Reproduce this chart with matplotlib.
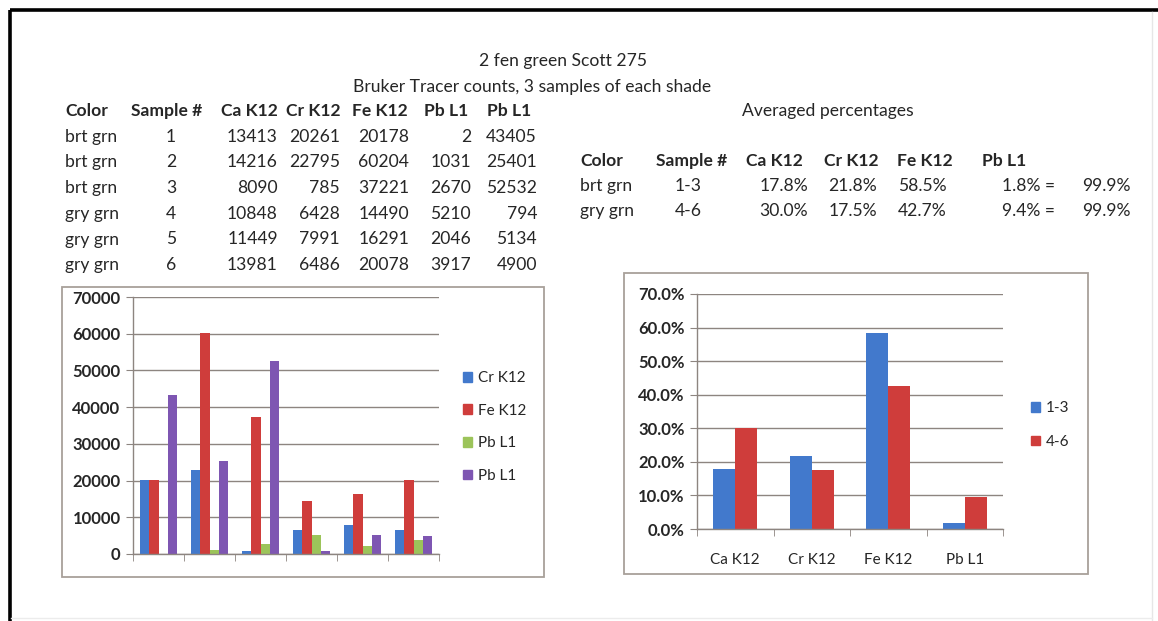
import matplotlib
matplotlib.use("Agg")
import matplotlib.pyplot as plt
from matplotlib.patches import Rectangle, Patch
from matplotlib.lines import Line2D
from matplotlib.ticker import FixedLocator, FuncFormatter
import numpy as np

plt.rcParams['font.family'] = ['Lato', 'DejaVu Sans']

# ---------------- data ----------------
title1 = "2 fen green Scott 275"
title2 = "Bruker Tracer counts, 3 samples of each shade"
avg_title = "Averaged percentages"

raw_headers = ["Color", "Sample #", "Ca K12", "Cr K12", "Fe K12", "Pb L1", "Pb L1"]
shade = ["brt grn", "brt grn", "brt grn", "gry grn", "gry grn", "gry grn"]
sample_no = [1, 2, 3, 4, 5, 6]
ca_k12 = [13413, 14216, 8090, 10848, 11449, 13981]
cr_k12 = [20261, 22795, 785, 6428, 7991, 6486]
fe_k12 = [20178, 60204, 37221, 14490, 16291, 20078]
pb_l1_a = [2, 1031, 2670, 5210, 2046, 3917]
pb_l1_b = [43405, 25401, 52532, 794, 5134, 4900]

avg_headers = ["Color", "Sample #", "Ca K12", "Cr K12", "Fe K12", "Pb L1"]
avg_shade = ["brt grn", "gry grn"]
avg_range = ["1-3", "4-6"]
elements = ["Ca K12", "Cr K12", "Fe K12", "Pb L1"]
avg_1_3 = [17.8, 21.8, 58.5, 1.8]
avg_4_6 = [30.0, 17.5, 42.7, 9.4]
avg_total = [99.9, 99.9]

left_series_names = ["Cr K12", "Fe K12", "Pb L1", "Pb L1"]
left_series = [cr_k12, fe_k12, pb_l1_a, pb_l1_b]
left_yticks = [0, 10000, 20000, 30000, 40000, 50000, 60000, 70000]
right_yticks = [0, 10, 20, 30, 40, 50, 60, 70]

# ---------------- style ----------------
W, H = 1158, 621
BLUE = "#4279CC"
RED = "#CF3D3B"
GREEN = "#9CC45A"
PURPLE = "#7E56B2"
GRID = "#8d8580"
BOX = "#a8a09a"
TXT = "#262626"
FS = 12.6      # table text
TFS = 12       # chart tick labels
LFS = 11       # legend / category labels

fig = plt.figure(figsize=(W / 100, H / 100), dpi=100, facecolor="white")

ov = fig.add_axes([0, 0, 1, 1], zorder=0)
ov.set_xlim(0, W)
ov.set_ylim(H, 0)
ov.axis("off")

# page frame
ov.add_line(Line2D([9.5, W], [9.5, 9.5], color="black", lw=2.6, solid_capstyle="butt"))
ov.add_line(Line2D([9.5, 9.5], [9.5, H], color="black", lw=2.6, solid_capstyle="butt"))
ov.add_line(Line2D([1152, 1152], [12, H], color="#e6e6e6", lw=1))
ov.add_line(Line2D([11, 1152], [618, 618], color="#ececec", lw=1))


def t(x, y, s, ha="left", weight="normal", size=FS):
    ov.text(x, y, s, ha=ha, va="center", fontsize=size, fontweight=weight, color=TXT)


t(563, 61, title1, ha="center")
t(532, 87, title2, ha="center")
t(828, 111, avg_title, ha="center")

# raw table
hdr_y = 111
row_dy = 25.7
hx = [(65, "left"), (167, "center"), (278, "right"), (341, "right"),
      (408, "right"), (468, "right"), (531, "right")]
for (x, ha), h in zip(hx, raw_headers):
    t(x, hdr_y, h, ha=ha, weight="bold")
vx = [(65, "left"), (171, "center"), (278, "right"), (340, "right"),
      (409, "right"), (471, "right"), (537, "right")]
for i in range(len(sample_no)):
    y = hdr_y + row_dy * (i + 1)
    vals = [shade[i], str(sample_no[i]), str(ca_k12[i]), str(cr_k12[i]),
            str(fe_k12[i]), str(pb_l1_a[i]), str(pb_l1_b[i])]
    for (x, ha), v in zip(vx, vals):
        t(x, y, v, ha=ha)

# averaged table
ahy = 161
ahx = [(580, "left"), (692, "center"), (803, "right"), (878, "right"),
       (953, "right"), (982, "left")]
for (x, ha), h in zip(ahx, avg_headers):
    t(x, ahy, h, ha=ha, weight="bold")
avg_rows = [avg_1_3, avg_4_6]
for r in range(2):
    y = ahy + 25 * (r + 1)
    t(580, y, avg_shade[r])
    t(688, y, avg_range[r], ha="center")
    vals = avg_rows[r]
    t(808, y, f"{vals[0]:.1f}%", ha="right")
    t(877, y, f"{vals[1]:.1f}%", ha="right")
    t(947, y, f"{vals[2]:.1f}%", ha="right")
    t(1055, y, f"{vals[3]:.1f}% =", ha="right")
    t(1131, y, f"{avg_total[r]:.1f}%", ha="right")

# chart boxes
ov.add_patch(Rectangle((62, 287), 544 - 62, 577 - 287, fill=False, ec=BOX, lw=1.3))
ov.add_patch(Rectangle((624, 273), 1088 - 624, 574 - 273, fill=False, ec=BOX, lw=1.3))


def px_rect(x0, y0, x1, y1):
    return [x0 / W, 1 - y1 / H, (x1 - x0) / W, (y1 - y0) / H]


def style_axes(ax, ncat):
    for s in ["top", "right"]:
        ax.spines[s].set_visible(False)
    for s in ["left", "bottom"]:
        ax.spines[s].set_color(GRID)
        ax.spines[s].set_linewidth(1)
    ax.yaxis.grid(True, color=GRID, lw=1)
    ax.set_axisbelow(True)
    ax.set_xlim(-0.5, ncat - 0.5)
    ax.xaxis.set_minor_locator(FixedLocator(np.arange(-0.5, ncat, 1.0)))
    ax.tick_params(axis="x", which="major", length=0)
    ax.tick_params(axis="x", which="minor", length=5, color=GRID, direction="out")
    ax.tick_params(axis="y", length=5, color=GRID, direction="out", pad=4,
                   labelsize=TFS, labelcolor=TXT)
    for lab in ax.get_yticklabels():
        lab.set_fontweight("bold")
    ax.patch.set_alpha(0)


# left chart
axL = fig.add_axes(px_rect(133, 297, 439, 554), zorder=2)
x = np.arange(len(sample_no))
bw = 1 / 5.5
colorsL = [BLUE, RED, GREEN, PURPLE]
for k, (vals, c) in enumerate(zip(left_series, colorsL)):
    axL.bar(x + (k - 1.5) * bw, vals, width=bw, color=c, lw=0)
axL.set_ylim(0, 70000)
axL.set_yticks(left_yticks)
axL.set_xticks(x)
axL.set_xticklabels([""] * len(x))
style_axes(axL, len(x))
for lab in axL.get_yticklabels():
    lab.set_fontweight("bold")
handlesL = [Patch(color=c) for c in colorsL]
axL.legend(handlesL, left_series_names, loc="center left",
           bbox_to_anchor=(463 / W, 1 - 427 / H), bbox_transform=fig.transFigure,
           frameon=False, fontsize=LFS, handlelength=0.6, handleheight=0.6,
           handletextpad=0.4, labelspacing=1.22, borderaxespad=0, borderpad=0,
           labelcolor=TXT)

# right chart
axR = fig.add_axes(px_rect(697, 294, 1003, 529), zorder=2)
xr = np.arange(len(elements))
bwr = 1 / 3.5
axR.bar(xr - bwr / 2, avg_1_3, width=bwr, color=BLUE, lw=0)
axR.bar(xr + bwr / 2, avg_4_6, width=bwr, color=RED, lw=0)
axR.set_ylim(0, 70)
axR.set_yticks(right_yticks)
axR.yaxis.set_major_formatter(FuncFormatter(lambda v, p: f"{v:.1f}%"))
axR.set_xticks(xr)
axR.set_xticklabels(elements, fontsize=LFS, color=TXT)
style_axes(axR, len(elements))
axR.tick_params(axis="x", which="major", pad=17)
for lab in axR.get_yticklabels():
    lab.set_fontweight("bold")
handlesR = [Patch(color=BLUE), Patch(color=RED)]
axR.legend(handlesR, avg_range, loc="center left",
           bbox_to_anchor=(1031 / W, 1 - 425 / H), bbox_transform=fig.transFigure,
           frameon=False, fontsize=LFS, handlelength=0.6, handleheight=0.6,
           handletextpad=0.4, labelspacing=1.3, borderaxespad=0, borderpad=0,
           labelcolor=TXT)

fig.savefig("out.png", dpi=100, facecolor="white")
